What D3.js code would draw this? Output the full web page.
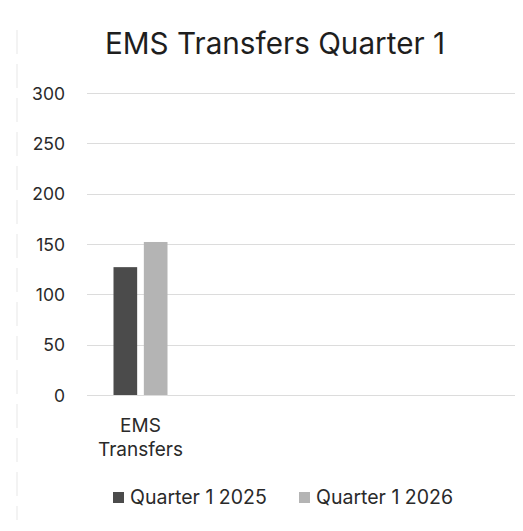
<!DOCTYPE html>
<html>
<head>
<meta charset="utf-8">
<script src="https://cdn.jsdelivr.net/npm/d3@7"></script>
<style>
  html, body { margin: 0; padding: 0; background: #fff; }
  svg { display: block; font-family: "Inter", "Noto Sans", sans-serif; }
</style>
</head>
<body>
<svg id="chart" width="523" height="531"></svg>
<script>
// Category slots along the x axis (only the first one carries data)
const categories = ["EMS Transfers", "slot2", "slot3", "slot4"];
const seriesNames = ["Quarter 1 2025", "Quarter 1 2026"];
const q1_2025 = [127];
const q1_2026 = [152];
const yTicks = [0, 50, 100, 150, 200, 250, 300];
const seriesColors = ["#4b4b4b", "#b4b4b4"];

const svg = d3.select("#chart");
const W = 523, H = 531;
const margin = { left: 87, right: 8, top: 93, bottom: 136 };

const x = d3.scaleBand()
  .domain(categories)
  .range([margin.left, W - margin.right])
  .paddingInner(0)
  .paddingOuter(0);

const y = d3.scaleLinear()
  .domain([0, 300])
  .range([H - margin.bottom, margin.top]);

const inner = d3.scaleBand()
  .domain(seriesNames)
  .range([0, 54])
  .paddingInner(0.22);

// faint frame edge on the left
svg.append("line")
  .attr("x1", 17).attr("x2", 17)
  .attr("y1", 30).attr("y2", 520)
  .attr("stroke", "#f0f0f0").attr("stroke-width", 1.5)
  .attr("stroke-dasharray", "24,10");

// title
svg.append("text")
  .attr("x", 275).attr("y", 54)
  .attr("text-anchor", "middle")
  .attr("font-size", 29.7)
  .attr("fill", "#1e1e1e")
  .text("EMS Transfers Quarter 1");

// gridlines
svg.append("g")
  .selectAll("line")
  .data(yTicks)
  .join("line")
  .attr("x1", margin.left).attr("x2", W - margin.right)
  .attr("y1", d => Math.round(y(d)) + 0.5)
  .attr("y2", d => Math.round(y(d)) + 0.5)
  .attr("stroke", "#dcdcdc").attr("stroke-width", 1);

// y axis labels
const yAxis = d3.axisLeft(y).tickValues(yTicks).tickSize(0).tickPadding(22);
svg.append("g")
  .attr("transform", `translate(${margin.left},0)`)
  .call(yAxis)
  .call(g => g.select(".domain").remove())
  .selectAll("text")
  .attr("font-size", 17.5)
  .attr("font-family", "Inter, 'Noto Sans', sans-serif")
  .attr("fill", "#2a2a2a")
  .attr("dy", "0.35em");

// bars
const rows = categories.slice(0, q1_2025.length).map((c, i) => ({
  cat: c,
  vals: [
    { s: seriesNames[0], v: q1_2025[i] },
    { s: seriesNames[1], v: q1_2026[i] }
  ]
}));

const groups = svg.append("g")
  .selectAll("g")
  .data(rows)
  .join("g")
  .attr("transform", d => `translate(${x(d.cat) + x.bandwidth() / 2 - 27},0)`);

groups.selectAll("rect")
  .data(d => d.vals)
  .join("rect")
  .attr("x", d => inner(d.s))
  .attr("width", inner.bandwidth())
  .attr("y", d => y(d.v))
  .attr("height", d => y(0) - y(d.v))
  .attr("fill", (d, i) => seriesColors[i]);

// category label (two lines)
svg.append("g")
  .selectAll("text")
  .data(rows)
  .join("text")
  .attr("text-anchor", "middle")
  .attr("font-size", 19)
  .attr("fill", "#2a2a2a")
  .each(function (d) {
    const words = d.cat.split(" ");
    const t = d3.select(this);
    words.forEach((w, k) => {
      t.append("tspan")
        .attr("x", x(d.cat) + x.bandwidth() / 2)
        .attr("y", 432 + k * 24)
        .text(w);
    });
  });

// legend
const legendItems = [
  { name: seriesNames[0], color: seriesColors[0], x: 113 },
  { name: seriesNames[1], color: seriesColors[1], x: 299 }
];
const lg = svg.append("g")
  .selectAll("g")
  .data(legendItems)
  .join("g")
  .attr("transform", d => `translate(${d.x},0)`);
lg.append("rect")
  .attr("x", 0).attr("y", 492)
  .attr("width", 11).attr("height", 11)
  .attr("fill", d => d.color);
lg.append("text")
  .attr("x", 17).attr("y", 504)
  .attr("font-size", 19.5)
  .attr("fill", "#2a2a2a")
  .text(d => d.name);
</script>
</body>
</html>
